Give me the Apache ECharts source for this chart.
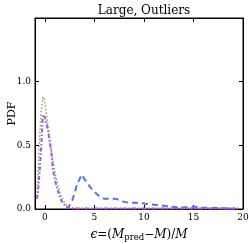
<!DOCTYPE html>
<html><head><meta charset="utf-8">
<script src="https://cdn.jsdelivr.net/npm/echarts@6/dist/echarts.min.js"></script>
<style>html,body{margin:0;padding:0;background:#fff}#c{width:249px;height:244px}</style>
</head><body><div id="c"></div>
<script>
var xTicks = [0, 5, 10, 15, 20];
var yTicks = [0.0, 0.5, 1.0];
var blueX = [2.2, 2.7, 3.2, 3.7, 4.3, 4.9, 5.5, 6.0, 6.6, 7.2, 7.8, 8.4, 9.0, 9.6, 10.2, 10.8, 11.4, 12.0, 12.6, 13.2, 13.8, 14.4, 15.0, 15.6, 16.2, 16.8, 17.4, 18.0, 18.6, 19.2];
var blueY = [0.0, 0.05, 0.18, 0.27, 0.2, 0.14, 0.1, 0.08, 0.08, 0.08, 0.06, 0.05, 0.05, 0.05, 0.04, 0.035, 0.03, 0.025, 0.02, 0.015, 0.012, 0.015, 0.02, 0.01, 0.01, 0.008, 0.01, 0.006, 0.005, 0.003];
var greenX = [-0.8, -0.6, -0.4, -0.2, -0.05, 0.1, 0.3, 0.5, 0.7, 0.9, 1.1, 1.3, 1.6, 1.9, 2.2, 2.6, 3.0, 5, 10, 15, 19.5];
var greenY = [0.1, 0.45, 0.75, 0.88, 0.86, 0.78, 0.66, 0.54, 0.43, 0.34, 0.26, 0.19, 0.11, 0.06, 0.03, 0.01, 0.004, 0.003, 0.003, 0.003, 0.003];
var purpleX = [-0.8, -0.7, -0.5, -0.37, -0.2, 0.0, 0.3, 0.63, 0.8, 1.13, 1.4, 1.63, 2.1, 2.6, 3.0, 5, 10, 15, 19.5];
var purpleY = [0.08, 0.13, 0.33, 0.49, 0.74, 0.72, 0.62, 0.46, 0.31, 0.19, 0.12, 0.07, 0.02, 0.006, 0.003, 0.003, 0.003, 0.003, 0.003];

function pts(xs, ys){ return xs.map(function(x,i){return [x, ys[i]];}); }
var font = 'DejaVu Serif';
var chart = echarts.init(document.getElementById('c'), null, {renderer:'canvas'});
var axisLine = {show:true, onZero:false, lineStyle:{color:'#000', width:1}};
chart.setOption({
  animation:false,
  title:{text:'Large, Outliers', left:139, top:0, textAlign:'center', textStyle:{fontFamily:font, fontSize:12, fontWeight:'normal', color:'#000'}},
  grid:{left:35, right:6, top:18, bottom:35, show:true, borderColor:'#000', borderWidth:1, containLabel:false, outerBoundsMode:'none'},
  xAxis:[{
    type:'value', min:-1, max:20, interval:5,
    axisLine:axisLine,
    axisTick:{show:true, inside:true, length:4, lineStyle:{color:'#000'}, customValues:xTicks},
    axisLabel:{fontFamily:font, fontSize:9, color:'#000', margin:4, customValues:xTicks},
    splitLine:{show:false},
    name:'{i|ϵ}{n|=(}{i|M}{s|pred}{n|−}{i|M}{n|)/}{i|M}',
    nameLocation:'middle', nameGap:19, nameMoveOverlap:false,
    nameTextStyle:{rich:{
      i:{fontFamily:font, fontStyle:'italic', fontSize:12, color:'#000'},
      n:{fontFamily:font, fontSize:12, color:'#000'},
      s:{fontFamily:font, fontSize:8.5, color:'#000', verticalAlign:'bottom', padding:[5,0,0,0]}
    }}
  },{
    type:'value', position:'top', min:-1, max:20, interval:5,
    axisLine:axisLine,
    axisTick:{show:true, inside:true, length:4, lineStyle:{color:'#000'}, customValues:[0,5,10,15]},
    axisLabel:{show:false}, splitLine:{show:false}
  }],
  yAxis:[{
    type:'value', min:0, max:1.5, interval:0.5,
    axisLine:axisLine,
    axisTick:{show:true, inside:true, length:4, lineStyle:{color:'#000'}, customValues:yTicks},
    axisLabel:{fontFamily:font, fontSize:9, color:'#000', margin:4, customValues:yTicks, formatter:function(v){return v.toFixed(1);}},
    splitLine:{show:false},
    name:'PDF', nameLocation:'middle', nameGap:23, nameRotate:90, nameMoveOverlap:false,
    nameTextStyle:{fontFamily:font, fontSize:11, color:'#000', verticalAlign:'middle'}
  },{
    type:'value', position:'right', min:0, max:1.5, interval:0.5,
    axisLine:axisLine,
    axisTick:{show:true, inside:true, length:4, lineStyle:{color:'#000'}, customValues:[0.5,1.0]},
    axisLabel:{show:false}, splitLine:{show:false}
  }],
  series:[
    {type:'line', data:pts(blueX, blueY), symbol:'none', lineStyle:{color:'#5f72e0', width:2, type:[6,4]}},
    {type:'line', data:pts(greenX, greenY), symbol:'none', lineStyle:{color:'#8aa840', width:1.5, type:[1.5,2]}},
    {type:'line', data:pts(purpleX, purpleY), symbol:'none', lineStyle:{color:'#9b5bef', width:2, type:[4,2,1.5,2]}}
  ]
});
</script></body></html>
